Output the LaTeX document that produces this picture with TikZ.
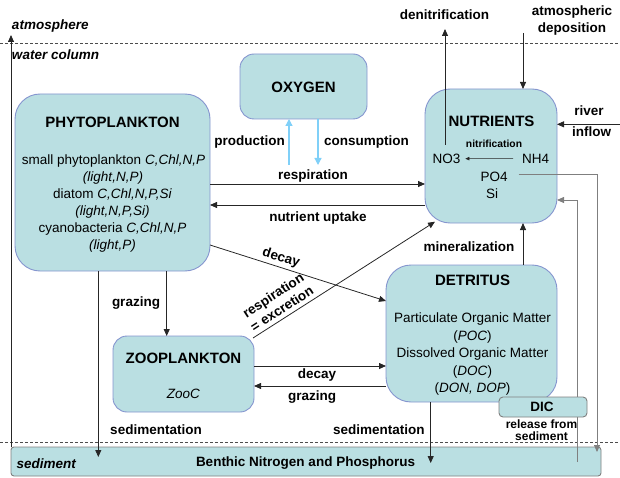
\documentclass[tikz,border=0pt]{standalone}
\usepackage{fontspec}
\setmainfont{Liberation Sans}
\usetikzlibrary{arrows.meta,calc}
\definecolor{boxfill}{HTML}{BADFE2}
\definecolor{boxline}{HTML}{8595CF}
\definecolor{otwo}{HTML}{80D0F8}
\definecolor{lncol}{HTML}{262626}
\definecolor{glncol}{HTML}{7F7F7F}
\begin{document}
\begin{tikzpicture}[x=1pt,y=-1pt,
  box/.style={draw=boxline, fill=boxfill, line width=0.9pt, inner sep=0pt, outer sep=0pt},
  gbox/.style={draw=glncol, fill=boxfill, line width=0.9pt, inner sep=0pt, outer sep=0pt},
  txt/.style={inner sep=0pt, outer sep=0pt, anchor=base, font=\fontsize{13.5}{16}\selectfont},
  lbl/.style={txt, font=\fontsize{13.5}{16}\selectfont\bfseries},
  ttl/.style={txt, font=\fontsize{15}{18}\selectfont\bfseries},
  arr/.style={draw=lncol, line width=0.8pt, -{Triangle[length=7pt,width=6pt]}},
  garr/.style={draw=glncol, line width=0.8pt, -{Triangle[length=7pt,width=6pt]}},
  sarr/.style={draw=lncol, line width=0.6pt, -{Triangle[length=4pt,width=3.5pt]}},
  oarr/.style={draw=otwo, line width=1.2pt, -{Triangle[length=7pt,width=7pt]}},
  sepline/.style={draw=black!70, line width=0.6pt, dash pattern=on 3pt off 2pt}]
\useasboundingbox (0,0) rectangle (620,478);

% sediment layer
\node[gbox, minimum width=590pt, minimum height=29pt, rounded corners=3pt] (sed) at (306,461.5) {};
\node[lbl, anchor=base west, font=\fontsize{13.5}{16}\selectfont\bfseries\itshape] (sedl) at (16.5,468.3) {sediment};
\node[lbl] (benth) at (305.5,466) {Benthic Nitrogen and Phosphorus};

% separators
\draw[sepline] (0,43) -- (620,43);
\draw[sepline] (0,442) -- (620,442);
\node[lbl, anchor=base west, font=\fontsize{13.5}{16}\selectfont\bfseries\itshape] (atm) at (12,30) {atmosphere};
\node[lbl, anchor=base west, font=\fontsize{13.5}{16}\selectfont\bfseries\itshape] (wcol) at (12,60) {water column};

% boxes
\node[box, minimum width=195pt, minimum height=177pt, rounded corners=25pt] (phyto) at (112.5,182.5) {};
\node[box, minimum width=127pt, minimum height=65pt, rounded corners=14pt] (oxy) at (303.5,86.5) {};
\node[box, minimum width=132pt, minimum height=134pt, rounded corners=25pt] (nutr) at (491,156) {};
\node[box, minimum width=171pt, minimum height=137pt, rounded corners=25pt] (detr) at (471.5,333.5) {};
\node[box, minimum width=141pt, minimum height=76pt, rounded corners=14pt] (zoo) at (183.5,374) {};

% phytoplankton text
\node[ttl] (phyt) at (112.5,127.5) {PHYTOPLANKTON};
\node[txt] (p1) at (113.5,164.5) {small phytoplankton \textit{C,Chl,N,P}};
\node[txt] (p2) at (113,181.5) {\textit{(light,N,P)}};
\node[txt] (p3) at (112.5,198.5) {diatom \textit{C,Chl,N,P,Si}};
\node[txt] (p4) at (112.5,215.5) {\textit{(light,N,P,Si)}};
\node[txt] (p5) at (112.5,232.5) {cyanobacteria \textit{C,Chl,N,P}};
\node[txt] (p6) at (112.5,249.5) {\textit{(light,P)}};

% oxygen
\node[ttl] (oxyt) at (303.5,93) {OXYGEN};

% nutrients text
\node[ttl] (nutt) at (491.5,126.7) {NUTRIENTS};
\node[lbl, font=\fontsize{10.3}{12}\selectfont\bfseries] (nitr) at (494,147.3) {nitrification};
\node[txt] (no3) at (446.5,163.3) {NO3};
\node[txt] (nh4) at (535.5,163.3) {NH4};
\node[txt] (po4) at (494,181.7) {PO4};
\node[txt] (si) at (492,198.3) {Si};

% detritus text
\node[ttl] (dett) at (472.5,285.7) {DETRITUS};
\node[txt] (d1) at (472.5,322.7) {Particulate Organic Matter};
\node[txt] (d2) at (472.5,340.2) {(\textit{POC})};
\node[txt] (d3) at (472.5,357.7) {Dissolved Organic Matter};
\node[txt] (d4) at (472.5,375.2) {(\textit{DOC})};
\node[txt] (d5) at (472.5,392.7) {(\textit{DON, DOP})};

% zooplankton text
\node[ttl] (zoot) at (183.5,363) {ZOOPLANKTON};
\node[txt] (zooc) at (183.5,398) {\textit{ZooC}};

% free-end coordinates
\coordinate (atmtop) at (11,35);
\coordinate (prodbot) at (289,165);
\coordinate (consbot) at (318,165);
\coordinate (denitop) at (445,29);
\coordinate (depotop) at (523,33);
\coordinate (riverin) at (620,124.3);

% connectors
\draw[arr] (sed.north west) -- (atmtop);
\draw[oarr] (prodbot) -- (prodbot |- oxy.south);
\draw[oarr] (consbot |- oxy.south) -- (consbot);
\draw[arr] (phyto.east |- 0,184) -- (nutr.west |- 0,184);
\draw[arr] (nutr.west |- 0,205) -- (phyto.east |- 0,205);
\draw[sarr] ([xshift=-9pt]nh4.west) -- ([xshift=5pt]no3.east);
\draw[arr] (denitop |- 0,145) -- (denitop);
\draw[arr] (depotop) -- (depotop |- nutr.north);
\draw[arr] (riverin) -- (riverin -| nutr.east);
\draw[garr] ($(po4.east)+(11,-2.6)$) -| ($(sed.north east)+(-4,5)$);
\draw[garr] ($(sed.north east)+(-24,15)$) |- (nutr.east |- 0,200);
\draw[arr] (phyto.east |- 0,245) -- (detr.west |- 0,301);
\draw[arr] ($(zoo.north east)+(-1,2)$) -- ($(nutr.south west)+(10,-1.3)$);
\draw[arr] (detr.north -| 523,0) -- (nutr.south -| 523,0);
\draw[arr] (phyto.south -| 166.7,0) -- (zoo.north -| 166.7,0);
\draw[arr] (phyto.south -| 98.3,0) -- ($(sed.north -| 98.3,0)+(0,10)$);
\draw[arr] (zoo.east |- 0,366) -- (detr.west |- 0,366);
\draw[arr] (detr.west |- 0,386) -- (zoo.east |- 0,386);
\draw[arr] (detr.south -| 430.7,0) -- ($(sed.north -| 430.7,0)+(0,16)$);

% DIC box
\node[gbox, minimum width=88pt, minimum height=20pt, rounded corners=4pt] (dic) at (543,407) {};
\node[ttl, font=\fontsize{13.5}{16}\selectfont\bfseries] (dict) at (542,411.7) {DIC};
\node[lbl, font=\fontsize{12}{12}\selectfont\bfseries] (rel1) at (541.5,428.3) {release from};
\node[lbl, font=\fontsize{12}{12}\selectfont\bfseries] (rel2) at (541.5,440.7) {sediment};

% labels
\node[lbl] (ldeni) at (444.5,20) {denitrification};
\node[lbl] (latm1) at (572,16) {atmospheric};
\node[lbl] (latm2) at (572,32.7) {deposition};
\node[lbl] (lriv1) at (589,116) {river};
\node[lbl] (lriv2) at (591.5,136.7) {inflow};
\node[lbl] (lprod) at (249.5,146) {production};
\node[lbl] (lcons) at (366.5,146) {consumption};
\node[lbl] (lresp) at (313,179.5) {respiration};
\node[lbl] (lupt) at (318,221.5) {nutrient uptake};
\node[lbl] (lmin) at (469,251.5) {mineralization};
\node[lbl, anchor=center, rotate=-17.6] (ldec1) at (281,258) {decay};
\node[lbl, anchor=center, align=center, rotate=33] (lrex) at (277.5,302) {respiration\\= excretion};
\node[lbl] (lgrz1) at (136,306) {grazing};
\node[lbl] (ldec2) at (317,378.5) {decay};
\node[lbl] (lgrz2) at (312,400.5) {grazing};
\node[lbl] (lsed1) at (156,434) {sedimentation};
\node[lbl] (lsed2) at (378.8,434) {sedimentation};
\end{tikzpicture}
\end{document}
